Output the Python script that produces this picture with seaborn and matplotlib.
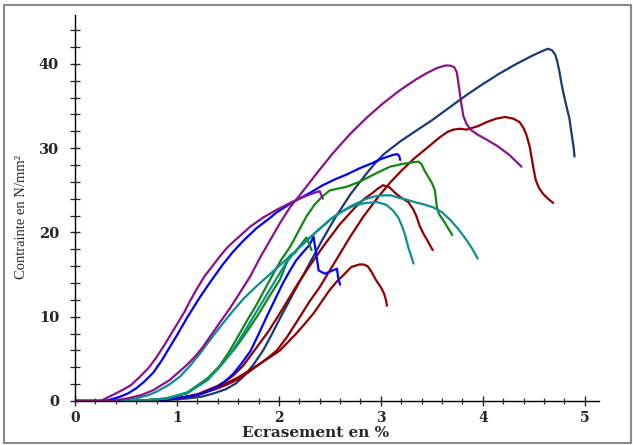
import matplotlib
matplotlib.use("Agg")
import matplotlib.pyplot as plt
from matplotlib.patches import Rectangle
from matplotlib.ticker import MultipleLocator
import seaborn as sns
import pandas as pd

# Compression tests: strain (%) vs stress (N/mm^2), one curve per specimen
purple_a_x = [0, 0.25, 0.30, 0.40, 0.48, 0.55, 0.63, 0.72, 0.80, 0.88, 0.95, 1.00, 1.07, 1.13, 1.19, 1.27, 1.36, 1.43, 1.50, 1.60, 1.72, 1.85, 1.98, 2.11, 2.20, 2.30, 2.40, 2.43]
purple_a_y = [0, 0.0, 0.3, 0.9, 1.4, 1.9, 2.8, 3.9, 5.2, 6.7, 8.1, 9.1, 10.5, 11.9, 13.2, 14.8, 16.2, 17.3, 18.3, 19.4, 20.7, 21.8, 22.7, 23.5, 24.0, 24.5, 24.9, 24.0]

purple_b_x = [0, 0.35, 0.51, 0.65, 0.77, 0.93, 1.09, 1.18, 1.26, 1.34, 1.42, 1.52, 1.62, 1.72, 1.81, 1.91, 2.01, 2.11, 2.21, 2.37, 2.53, 2.70, 2.86, 3.02, 3.19, 3.35, 3.45, 3.55, 3.63, 3.68, 3.72, 3.745, 3.76, 3.775, 3.79, 3.81, 3.84, 3.88, 3.95, 4.04, 4.15, 4.26, 4.38]
purple_b_y = [0, 0.0, 0.3, 0.7, 1.3, 2.5, 4.2, 5.3, 6.5, 7.9, 9.3, 11.0, 12.9, 14.8, 16.9, 19.0, 21.1, 23.0, 24.5, 27.0, 29.4, 31.7, 33.6, 35.3, 36.9, 38.2, 38.9, 39.5, 39.8, 39.8, 39.6, 39.0, 37.8, 36.5, 35.2, 33.8, 32.9, 32.2, 31.6, 31.0, 30.2, 29.2, 27.8]

blue_a_x = [0, 0.30, 0.44, 0.52, 0.60, 0.68, 0.77, 0.85, 0.93, 1.00, 1.10, 1.23, 1.32, 1.45, 1.55, 1.65, 1.78, 1.90, 1.98, 2.11, 2.20, 2.32, 2.43, 2.55, 2.67, 2.79, 2.91, 3.00, 3.07, 3.12, 3.16, 3.18, 3.19]
blue_a_y = [0, 0.0, 0.5, 0.9, 1.5, 2.3, 3.4, 4.8, 6.4, 7.8, 9.9, 12.4, 14.0, 16.2, 17.7, 19.0, 20.5, 21.6, 22.4, 23.4, 24.0, 24.8, 25.6, 26.3, 26.9, 27.6, 28.2, 28.7, 29.0, 29.2, 29.3, 29.1, 28.6]

blue_b_x = [0, 0.70, 0.90, 1.10, 1.25, 1.39, 1.47, 1.55, 1.63, 1.72, 1.80, 1.88, 1.96, 2.04, 2.11, 2.17, 2.24, 2.30, 2.34, 2.36, 2.39, 2.45, 2.55, 2.57, 2.58, 2.60]
blue_b_y = [0, 0.0, 0.2, 0.5, 0.9, 1.6, 2.3, 3.2, 4.4, 5.9, 7.9, 10.0, 12.0, 14.0, 15.5, 16.7, 17.7, 18.5, 19.5, 17.9, 15.5, 15.1, 15.6, 15.7, 14.7, 13.8]

navy_x = [0, 0.60, 0.90, 1.10, 1.24, 1.36, 1.48, 1.58, 1.66, 1.75, 1.85, 1.93, 2.01, 2.09, 2.17, 2.30, 2.43, 2.55, 2.70, 2.86, 2.95, 3.03, 3.19, 3.35, 3.50, 3.67, 3.84, 4.00, 4.17, 4.33, 4.49, 4.58, 4.64, 4.68, 4.71, 4.73, 4.75, 4.77, 4.79, 4.82, 4.85, 4.87, 4.89, 4.90]
navy_y = [0, 0.0, 0.1, 0.3, 0.5, 0.9, 1.4, 2.1, 3.0, 4.3, 6.1, 7.9, 9.8, 11.6, 13.4, 16.3, 19.2, 21.7, 24.5, 27.0, 28.3, 29.3, 30.8, 32.1, 33.3, 34.8, 36.3, 37.6, 38.9, 40.0, 41.0, 41.5, 41.8, 41.6, 41.1, 40.3, 39.2, 37.8, 36.6, 35.0, 33.5, 31.8, 30.2, 29.0]

teal_a_x = [0, 0.45, 0.60, 0.72, 0.80, 0.93, 1.03, 1.13, 1.23, 1.34, 1.45, 1.55, 1.65, 1.77, 1.88, 2.00, 2.11, 2.21, 2.37, 2.53, 2.70, 2.86, 2.95, 3.02, 3.10, 3.18, 3.25, 3.33, 3.40, 3.51, 3.60, 3.68, 3.76, 3.84, 3.90, 3.95]
teal_a_y = [0, 0.0, 0.3, 0.7, 1.1, 2.0, 2.9, 4.2, 5.7, 7.5, 9.2, 10.7, 12.1, 13.5, 14.7, 16.0, 17.2, 18.3, 20.1, 21.8, 23.1, 24.0, 24.3, 24.4, 24.4, 24.1, 23.9, 23.6, 23.4, 23.0, 22.4, 21.5, 20.4, 19.1, 18.0, 16.9]

teal_b_x = [0, 0.60, 0.90, 1.10, 1.30, 1.41, 1.52, 1.61, 1.70, 1.80, 1.90, 1.99, 2.07, 2.20, 2.34, 2.50, 2.62, 2.74, 2.85, 2.96, 3.05, 3.12, 3.17, 3.21, 3.24, 3.27, 3.30, 3.32]
teal_b_y = [0, 0.0, 0.3, 1.0, 2.5, 3.9, 5.5, 7.2, 9.0, 11.0, 13.0, 14.8, 16.4, 18.3, 19.8, 21.5, 22.5, 23.2, 23.5, 23.6, 23.3, 22.6, 21.8, 20.7, 19.6, 18.2, 17.1, 16.3]

green_a_x = [0, 0.60, 0.90, 1.10, 1.30, 1.41, 1.52, 1.61, 1.70, 1.78, 1.85, 1.94, 2.02, 2.11, 2.19, 2.27, 2.35, 2.42, 2.50, 2.58, 2.66, 2.79, 2.95, 3.09, 3.20, 3.30, 3.37, 3.40, 3.43, 3.47, 3.50, 3.53, 3.54, 3.55, 3.57, 3.62, 3.66, 3.70]
green_a_y = [0, 0.0, 0.3, 0.9, 2.5, 4.0, 6.0, 7.9, 9.8, 11.4, 13.0, 15.0, 16.7, 18.3, 20.1, 21.9, 23.3, 24.2, 25.0, 25.2, 25.4, 26.0, 27.0, 27.8, 28.1, 28.3, 28.4, 28.1, 27.3, 26.5, 25.9, 25.0, 24.0, 23.0, 22.2, 21.3, 20.5, 19.7]

green_b_x = [0, 0.60, 0.90, 1.10, 1.30, 1.44, 1.58, 1.69, 1.80, 1.90, 2.01, 2.06, 2.11, 2.16, 2.20, 2.27, 2.30, 2.32]
green_b_y = [0, 0.0, 0.3, 1.0, 2.7, 4.4, 6.4, 8.3, 10.3, 12.3, 14.4, 15.9, 17.3, 17.6, 18.3, 19.4, 18.6, 17.9]

red_a_x = [0, 0.70, 1.00, 1.20, 1.40, 1.50, 1.60, 1.70, 1.80, 1.89, 1.98, 2.08, 2.17, 2.30, 2.40, 2.57, 2.70, 2.83, 2.96, 3.09, 3.20, 3.32, 3.45, 3.58, 3.65, 3.71, 3.78, 3.84, 3.95, 4.04, 4.13, 4.22, 4.30, 4.36, 4.40, 4.43, 4.46, 4.48, 4.50, 4.52, 4.55, 4.59, 4.64, 4.69]
red_a_y = [0, 0.0, 0.3, 0.7, 1.5, 2.0, 2.6, 3.4, 4.3, 5.1, 6.0, 7.6, 9.3, 11.8, 13.5, 16.9, 19.5, 21.9, 24.0, 25.9, 27.3, 28.7, 30.0, 31.3, 31.9, 32.2, 32.3, 32.2, 32.6, 33.1, 33.5, 33.7, 33.5, 33.1, 32.4, 31.5, 30.2, 28.8, 27.4, 26.2, 25.3, 24.6, 24.0, 23.5]

red_b_x = [0, 0.60, 0.80, 1.00, 1.20, 1.40, 1.48, 1.55, 1.65, 1.76, 1.90, 2.04, 2.19, 2.30, 2.45, 2.60, 2.75, 2.84, 2.92, 2.97, 3.02, 3.08, 3.14, 3.19, 3.27, 3.32, 3.35, 3.38, 3.42, 3.45, 3.49, 3.51]
red_b_y = [0, 0.0, 0.1, 0.3, 0.8, 1.8, 2.4, 3.0, 4.2, 6.0, 8.3, 11.0, 14.0, 16.0, 18.6, 21.0, 23.0, 24.0, 24.7, 25.2, 25.6, 25.4, 24.7, 24.2, 23.6, 22.7, 21.9, 20.8, 19.8, 19.2, 18.3, 17.9]

red_c_x = [0, 0.70, 1.00, 1.20, 1.40, 1.60, 1.72, 1.80, 1.90, 2.01, 2.09, 2.17, 2.25, 2.34, 2.42, 2.50, 2.57, 2.63, 2.71, 2.79, 2.83, 2.87, 2.91, 2.95, 3.00, 3.03, 3.05, 3.06]
red_c_y = [0, 0.0, 0.3, 0.7, 1.6, 2.8, 3.7, 4.3, 5.1, 6.0, 7.0, 8.0, 9.1, 10.4, 11.8, 13.2, 14.2, 14.9, 15.9, 16.2, 16.2, 16.0, 15.3, 14.4, 13.5, 12.8, 12.0, 11.3]

x_ticks = [0, 1, 2, 3, 4, 5]
y_ticks = [0, 10, 20, 30, 40]
x_label = "Ecrasement en %"
y_label = "Contrainte en N/mm²"

PURPLE = "#8b128b"
BLUE = "#0000ff"
NAVY = "#173a7a"
TEAL = "#0e8f8f"
GREEN = "#118811"
RED = "#900000"

specimens = [
    (navy_x, navy_y, NAVY),
    (red_c_x, red_c_y, RED),
    (red_b_x, red_b_y, RED),
    (red_a_x, red_a_y, RED),
    (blue_b_x, blue_b_y, BLUE),
    (green_b_x, green_b_y, GREEN),
    (green_a_x, green_a_y, GREEN),
    (teal_b_x, teal_b_y, TEAL),
    (teal_a_x, teal_a_y, TEAL),
    (blue_a_x, blue_a_y, BLUE),
    (purple_b_x, purple_b_y, PURPLE),
    (purple_a_x, purple_a_y, PURPLE),
]

sns.set_style("ticks")
plt.rcParams["font.family"] = ["DejaVu Serif"]

fig = plt.figure(figsize=(6.33, 4.45), dpi=100)
ax = fig.add_axes([75 / 633, 1 - 401 / 445, 524 / 633, 386 / 445])

for xs, ys, col in specimens:
    df = pd.DataFrame({"strain": xs, "stress": ys})
    sns.lineplot(data=df, x="strain", y="stress", sort=False, estimator=None,
                 color=col, linewidth=1.6, ax=ax)

ax.set_xlim(0, 5.14)
ax.set_ylim(0, 45.8)
ax.xaxis.set_minor_locator(MultipleLocator(0.2))
ax.yaxis.set_minor_locator(MultipleLocator(2))
ax.set_xticks(x_ticks)
ax.set_yticks(y_ticks)
ax.set_xticklabels([str(t) for t in x_ticks])
ax.set_yticklabels([str(t) for t in y_ticks])

for side in ("top", "right"):
    ax.spines[side].set_visible(False)
for side in ("left", "bottom"):
    ax.spines[side].set_color("black")
    ax.spines[side].set_linewidth(1.0)

ax.tick_params(axis="x", which="major", direction="inout", length=7, width=1.0,
               pad=4, labelsize=10)
ax.tick_params(axis="x", which="minor", direction="inout", length=4, width=0.9)
ax.tick_params(axis="y", which="major", direction="inout", length=7, width=1.0,
               pad=8, labelsize=10.5)
ax.tick_params(axis="y", which="minor", direction="inout", length=7, width=0.9)
for lab in ax.get_xticklabels() + ax.get_yticklabels():
    lab.set_fontweight("bold")

ax.set_xlabel(x_label, fontsize=11, fontweight="bold")
ax.xaxis.label.set_verticalalignment("center")
ax.xaxis.set_label_coords((316 - 75) / 524, -(433 - 401) / 386)
ax.set_ylabel(y_label, fontsize=10.5, family=["Liberation Serif"])
ax.yaxis.set_label_coords(-(75 - 28) / 524, (401 - 217) / 386)

fig.patches.append(Rectangle((4 / 633, 2 / 445), 627 / 633, 438 / 445,
                             transform=fig.transFigure, fill=False,
                             edgecolor="#8a8a8a", linewidth=1.5))

fig.savefig("out.png", dpi=100)
